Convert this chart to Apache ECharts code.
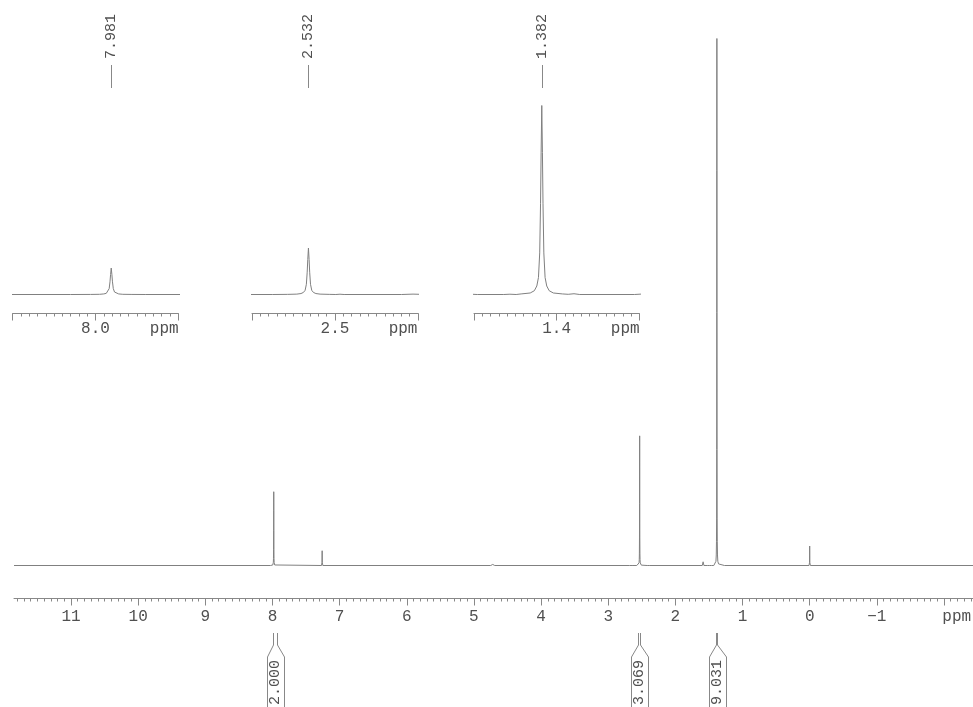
<!DOCTYPE html>
<html><head><meta charset="utf-8">
<script src="https://cdn.jsdelivr.net/npm/echarts@6/dist/echarts.min.js"></script>
<style>html,body{margin:0;padding:0;background:#fff}#c{width:973px;height:707px}</style>
</head><body><div id="c"></div>
<script>
// ---- spectrum points [ppm, intensity] (descending ppm) ----
const spectrum = [
  [11.849,0],
  [8.03,0],[8.006,0.04],[7.995,0.1],[7.990,0.3],[7.987,0.6],[7.985,1.3],[7.9835,3.1],[7.9825,6.7],[7.9818,10.5],[7.981,14],
  [7.9802,10.5],[7.9795,6.7],[7.9785,3.1],[7.977,1.3],[7.975,0.6],[7.972,0.3],[7.967,0.1],[7.956,0.04],[7.94,0],
  [7.27,0],[7.262,0.6],[7.26,2.8],[7.258,0.6],[7.25,0],
  [4.75,0],[4.72,0.2],[4.69,0],
  [2.68,0],[2.663,0.2],[2.645,0],
  [2.575,0],[2.557,0.07],[2.546,0.2],[2.541,0.5],[2.538,1.1],[2.536,2.2],[2.5345,5.4],[2.5335,11.8],[2.5328,18.5],[2.532,24.6],
  [2.5312,18.5],[2.5305,11.8],[2.5295,5.4],[2.528,2.2],[2.526,1.1],[2.523,0.5],[2.518,0.2],[2.507,0.07],[2.499,0],[2.494,0.15],[2.489,0],
  [2.42,0],[2.406,0.2],[2.39,0],
  [1.60,0],[1.587,0.7],[1.575,0],
  [1.525,0],[1.51,0.3],[1.495,0],
  [1.48,0],[1.47,0.2],[1.46,0],
  [1.428,0],[1.4205,0.15],[1.413,0],
  [1.407,0.3],[1.396,0.8],[1.391,2.0],[1.388,4.5],[1.386,9],[1.3845,22],[1.3835,48],[1.3828,75],[1.382,100],
  [1.3812,75],[1.3805,48],[1.3795,22],[1.378,9],[1.376,4.5],[1.373,2.0],[1.368,0.8],[1.357,0.3],
  [1.35,0.1],[1.343,0.4],[1.336,0],
  [1.27,0],[1.262,0.2],[1.255,0],
  [0.01,0],[0.002,0.6],[0,3.7],[-0.002,0.6],[-0.01,0],
  [-2.432,0]
];

// ---- main axis ----
const mainRange = [-2.432, 11.849];
const mainMajorTicks = [11,10,9,8,7,6,5,4,3,2,1,0,-1,-2];
const mainLabelValues = [11,10,9,8,7,6,5,4,3,2,1,0,-1];
const mainTickLabels = ['11','10','9','8','7','6','5','4','3','2','1','0','\u22121'];
const mainUnitValue = -2.19;
const unitLabel = 'ppm';

// ---- insets ----
const insetRanges = [[7.9,8.1],[2.4,2.6],[1.264,1.464]];
const insetMajorTicks = [[7.9,8.0,8.1],[2.4,2.5,2.6],[1.264,1.364,1.464]];
const insetLabelValues = [8.0, 2.5, 1.364];
const insetTickLabels = ['8.0','2.5','1.4'];
const insetUnitValues = [7.917, 2.418, 1.281];

// ---- peak picks ----
const peakShifts = [7.981, 2.532, 1.382];
const peakTexts = ['7.981','2.532','1.382'];

// ---- integrals ----
const integralStart = [7.996, 2.561, 1.392];
const integralEnd = [7.937, 2.522, 1.376];
const integralValues = ['2.000','3.069','9.031'];

function steps(a, b, st) {
  const n = Math.round((b - a) / st);
  return Array.from({length: n + 1}, (_, i) => +(a + i * st).toFixed(4));
}
const FONT = '"Liberation Mono", "Courier New", monospace';
const LINE = '#808080';
const TXT = '#505050';

const chart = echarts.init(document.getElementById('c'), null, {renderer: 'canvas'});

function labelFormatter(values, texts, unitVal) {
  return function (v) {
    if (Math.abs(v - unitVal) < 1e-6) return unitLabel;
    for (let i = 0; i < values.length; i++) if (Math.abs(v - values[i]) < 1e-6) return texts[i];
    return '';
  };
}

const grids = [
  {left: 14, top: 38.5, width: 959, height: 527, outerBoundsMode: 'none', containLabel: false},
  {left: 12.7, top: 105.5, width: 165.6, height: 189, outerBoundsMode: 'none', containLabel: false},
  {left: 252, top: 105.5, width: 166, height: 189, outerBoundsMode: 'none', containLabel: false},
  {left: 474, top: 105.5, width: 165.3, height: 189, outerBoundsMode: 'none', containLabel: false}
];

const xAxes = [];
const yAxes = [];
// main
xAxes.push({
  type: 'value', gridIndex: 0, inverse: true, min: mainRange[0], max: mainRange[1], offset: 33, position: 'bottom',
  axisLine: {show: true, onZero: false, lineStyle: {color: '#888', width: 1}},
  axisTick: {show: true, length: 7, customValues: mainMajorTicks, lineStyle: {color: '#888'}},
  axisLabel: {show: true, customValues: mainLabelValues.concat([mainUnitValue]), margin: 10,
    formatter: labelFormatter(mainLabelValues, mainTickLabels, mainUnitValue),
    fontFamily: FONT, fontSize: 16, color: TXT},
  splitLine: {show: false}
});
xAxes.push({
  type: 'value', gridIndex: 0, inverse: true, min: mainRange[0], max: mainRange[1], offset: 33, position: 'bottom',
  axisLine: {show: false, onZero: false},
  axisTick: {show: true, length: 3, customValues: steps(-2.4, 11.8, 0.1), lineStyle: {color: '#888'}},
  axisLabel: {show: false}, splitLine: {show: false}
});
yAxes.push({type: 'value', gridIndex: 0, min: 0, max: 100, show: false});

insetRanges.forEach((r, k) => {
  xAxes.push({
    type: 'value', gridIndex: k + 1, inverse: true, min: r[0], max: r[1], offset: 19, position: 'bottom',
    axisLine: {show: true, onZero: false, lineStyle: {color: '#888', width: 1}},
    axisTick: {show: true, length: 7, customValues: insetMajorTicks[k], lineStyle: {color: '#888'}},
    axisLabel: {show: true, customValues: [insetLabelValues[k], insetUnitValues[k]], margin: 7,
      formatter: labelFormatter([insetLabelValues[k]], [insetTickLabels[k]], insetUnitValues[k]),
      fontFamily: FONT, fontSize: 16, color: TXT},
    splitLine: {show: false}
  });
  xAxes.push({
    type: 'value', gridIndex: k + 1, inverse: true, min: r[0], max: r[1], offset: 19, position: 'bottom',
    axisLine: {show: false, onZero: false},
    axisTick: {show: true, length: 3, customValues: steps(r[0], r[1], 0.01), lineStyle: {color: '#888'}},
    axisLabel: {show: false}, splitLine: {show: false}
  });
  yAxes.push({type: 'value', gridIndex: k + 1, min: 0, max: 100, show: false});
});

const series = [];
series.push({
  type: 'line', xAxisIndex: 0, yAxisIndex: 0, data: spectrum, showSymbol: false, symbol: 'none',
  lineStyle: {color: LINE, width: 1}, clip: true, silent: true
});
insetRanges.forEach((r, k) => {
  series.push({
    type: 'line', xAxisIndex: 2 + 2 * k, yAxisIndex: k + 1, data: spectrum, showSymbol: false, symbol: 'none',
    lineStyle: {color: LINE, width: 1}, clip: true, silent: true
  });
  series.push({
    type: 'custom', xAxisIndex: 2 + 2 * k, yAxisIndex: k + 1, data: [[peakShifts[k], 0]], silent: true,
    renderItem: function (params, api) {
      const x = Math.round(api.coord([api.value(0), 0])[0]) + 0.5;
      return {type: 'group', children: [
        {type: 'line', shape: {x1: x, y1: 65, x2: x, y2: 88}, style: {stroke: '#888', lineWidth: 1}},
        {type: 'text', x: x, y: 59, rotation: Math.PI / 2,
          style: {text: peakTexts[k], align: 'left', verticalAlign: 'middle', font: '15px ' + FONT, fill: TXT}}
      ]};
    }
  });
});
series.push({
  type: 'custom', xAxisIndex: 0, yAxisIndex: 0, silent: true,
  data: integralStart.map((s, i) => [s, integralEnd[i], 0]),
  encode: {x: [0, 1], y: 2},
  renderItem: function (params, api) {
    const i = params.dataIndex;
    const x1 = Math.round(api.coord([api.value(0), 0])[0]) + 0.5;
    const x2 = Math.round(api.coord([api.value(1), 0])[0]) + 0.5;
    const cx = (x1 + x2) / 2;
    const hw = 8.5;
    const l = Math.round(cx - hw) + 0.5, rr = Math.round(cx + hw) + 0.5;
    const st = {stroke: '#888', lineWidth: 1, fill: null};
    return {type: 'group', children: [
      {type: 'polyline', shape: {points: [[x1, 633], [x1, 645], [l, 657], [l, 708]]}, style: st},
      {type: 'polyline', shape: {points: [[x2, 633], [x2, 645], [rr, 657], [rr, 708]]}, style: st},
      {type: 'text', x: cx, y: 660, rotation: Math.PI / 2,
        style: {text: integralValues[i], align: 'right', verticalAlign: 'middle', font: '15px ' + FONT, fill: TXT}}
    ]};
  }
});

chart.setOption({
  animation: false,
  backgroundColor: '#fff',
  grid: grids,
  xAxis: xAxes,
  yAxis: yAxes,
  series: series
});
</script></body></html>
